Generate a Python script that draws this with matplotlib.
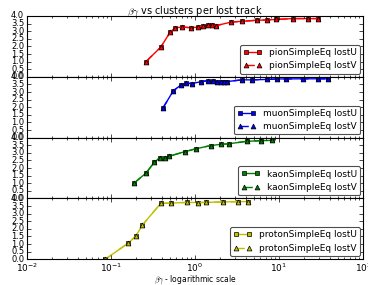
import matplotlib
matplotlib.use("Agg")
import matplotlib.pyplot as plt

plt.style.use('classic')

particles = ["pion", "muon", "kaon", "proton"]
colors = ["r", "b", "g", "y"]

pion_bg = [0.261, 0.391, 0.504, 0.578, 0.706, 0.889, 1.077, 1.256, 1.439, 1.607,
           1.793, 2.705, 3.627, 5.47, 7.20, 9.14, 14.7, 21.97, 29.4]
pion_u = [1.0, 1.95, 2.92, 3.22, 3.27, 3.23, 3.26, 3.33, 3.43, 3.39,
          3.37, 3.6, 3.65, 3.72, 3.74, 3.77, 3.83, 3.83, 3.83]

muon_bg = [0.413, 0.552, 0.681, 0.781, 0.929, 1.179, 1.416, 1.625, 1.813, 2.023,
           2.214, 2.425, 3.627, 4.77, 7.26, 9.54, 12.12, 19.3, 29.1, 38.6]
muon_u = [1.93, 3.08, 3.47, 3.57, 3.56, 3.68, 3.75, 3.70, 3.69, 3.69,
          3.69, 3.69, 3.80, 3.80, 3.83, 3.86, 3.86, 3.87, 3.87, 3.87]

kaon_bg = [0.188, 0.261, 0.328, 0.383, 0.439, 0.494, 0.760, 1.028, 1.538, 2.04,
           2.56, 4.13, 6.16, 8.25]
kaon_u = [1.01, 1.67, 2.38, 2.69, 2.64, 2.78, 3.08, 3.27, 3.48, 3.56,
          3.60, 3.76, 3.80, 3.82]

proton_bg = [0.0853, 0.161, 0.199, 0.236, 0.392, 0.525, 0.803, 1.071, 1.334, 2.154,
             3.22, 4.30]
proton_u = [0.0, 1.07, 1.55, 2.25, 3.68, 3.70, 3.74, 3.73, 3.74, 3.77, 3.79, 3.80]

xs = [pion_bg, muon_bg, kaon_bg, proton_bg]
us = [pion_u, muon_u, kaon_u, proton_u]
vs = [pion_u, muon_u, kaon_u, proton_u]

yticks = [0.0, 0.5, 1.0, 1.5, 2.0, 2.5, 3.0, 3.5, 4.0]

fig, axes = plt.subplots(4, 1, sharex=True, figsize=(3.68, 2.85), dpi=100)
fig.patch.set_facecolor('white')
fig.subplots_adjust(left=0.0734, right=0.9864, top=0.9439, bottom=0.0902, hspace=0)

for ax, name, c, x, u, v in zip(axes, particles, colors, xs, us, vs):
    ax.plot(x, u, '-s', color=c, markersize=3.5, markeredgecolor='k',
            markeredgewidth=0.5, lw=1.0, label=name + "SimpleEq lostU")
    ax.plot(x, v, '--^', color=c, markersize=3.5, markeredgecolor='k',
            markeredgewidth=0.5, lw=1.0, label=name + "SimpleEq lostV")
    ax.set_xscale('log')
    ax.set_xlim(1e-2, 1e2)
    ax.set_ylim(0, 4.0)
    ax.set_yticks(yticks)
    ax.set_yticklabels(["%.1f" % t for t in yticks])
    ax.tick_params(axis='y', which='major', labelsize=6, length=3, width=0.5, pad=2)
    ax.tick_params(axis='x', which='major', labelsize=6.5, length=3, width=0.5, pad=1.5)
    ax.tick_params(axis='both', which='minor', length=1.5, width=0.5)
    for s in ax.spines.values():
        s.set_linewidth(0.8)
    leg = ax.legend(loc='lower right', fontsize=6.5, numpoints=2, fancybox=True,
                    borderaxespad=0.35, borderpad=0.35, handletextpad=0.8,
                    labelspacing=0.5, handlelength=2.0)
    leg.get_frame().set_linewidth(0.8)
    leg.get_frame().set_edgecolor('0.3')

axes[0].set_title(r"$\beta\gamma$ vs clusters per lost track", fontsize=7, pad=2)
axes[-1].set_xlabel(r"$\beta\gamma$ - logarithmic scale", fontsize=5.5, labelpad=0)

fig.savefig("out.png", dpi=100, facecolor='white')
